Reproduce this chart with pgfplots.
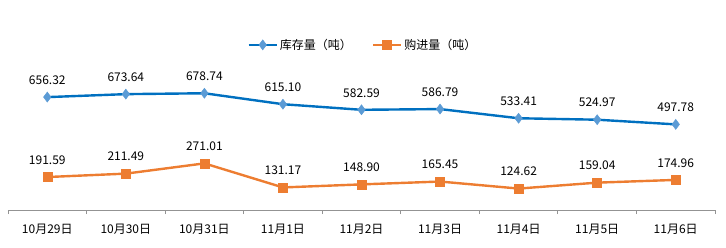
\documentclass[border=0pt]{standalone}
\usepackage{pgfplots}
\pgfplotsset{compat=1.18}
\usepackage{fontspec}
\setmainfont{Noto Sans CJK SC}
\definecolor{bline}{RGB}{0,112,192}
\definecolor{bmark}{RGB}{91,155,213}
\definecolor{oline}{RGB}{237,125,49}
\begin{document}
\begin{tikzpicture}
\useasboundingbox (-8bp,-38bp) rectangle (718bp,210bp);
\begin{axis}[
  at={(0,0)}, anchor=south west,
  scale only axis, width=707bp, height=137.6bp,
  xmin=-0.5, xmax=8.5, ymin=0, ymax=800,
  clip=false,
  axis x line=bottom, axis y line=none,
  axis line style={-, draw=gray!85, line width=0.8pt},
  xtick={0,...,8},
  xticklabels={10月29日,10月30日,10月31日,11月1日,11月2日,11月3日,11月4日,11月5日,11月6日},
  major tick length=0pt,
  minor xtick={-0.5,0.5,...,8.5},
  minor tick length=4bp, tick align=outside,
  minor tick style={draw=gray!85, line width=0.8pt},
  xticklabel style={font=\fontsize{12bp}{14bp}\selectfont, yshift=-11bp},
  point meta=explicit symbolic,
  nodes near coords,
  every node near coord/.append style={font=\fontsize{12bp}{14bp}\selectfont, anchor=south, yshift=9bp, text=black},
  legend style={at={(0.502,1.2)}, anchor=center, draw=none, fill=none,
    font=\fontsize{12bp}{14bp}\selectfont, legend columns=2,
    /tikz/every even column/.append style={column sep=18bp}},
  legend image code/.code={
    \draw[#1, mark=none] (0bp,0bp) -- (28bp,0bp);
    \draw[#1, only marks] plot coordinates {(14bp,0bp)};
  },
]
\addplot[color=bline, line width=2.4bp, mark=diamond*, mark size=5bp,
  mark options={fill=bmark, draw=bmark, line width=0.5bp}]
  coordinates {
  (0,656.32) [656.32]
  (1,673.64) [673.64]
  (2,678.74) [678.74]
  (3,615.10) [615.10]
  (4,582.59) [582.59]
  (5,586.79) [586.79]
  (6,533.41) [533.41]
  (7,524.97) [524.97]
  (8,497.78) [497.78]
  };
\addlegendentry{库存量（吨）}
\addplot[color=oline, line width=2.4bp, mark=square*, mark size=4.5bp,
  mark options={fill=oline, draw=oline, line width=0.5bp}]
  coordinates {
  (0,191.59) [191.59]
  (1,211.49) [211.49]
  (2,271.01) [271.01]
  (3,131.17) [131.17]
  (4,148.90) [148.90]
  (5,165.45) [165.45]
  (6,124.62) [124.62]
  (7,159.04) [159.04]
  (8,174.96) [174.96]
  };
\addlegendentry{购进量（吨）}
\end{axis}
\end{tikzpicture}
\end{document}
